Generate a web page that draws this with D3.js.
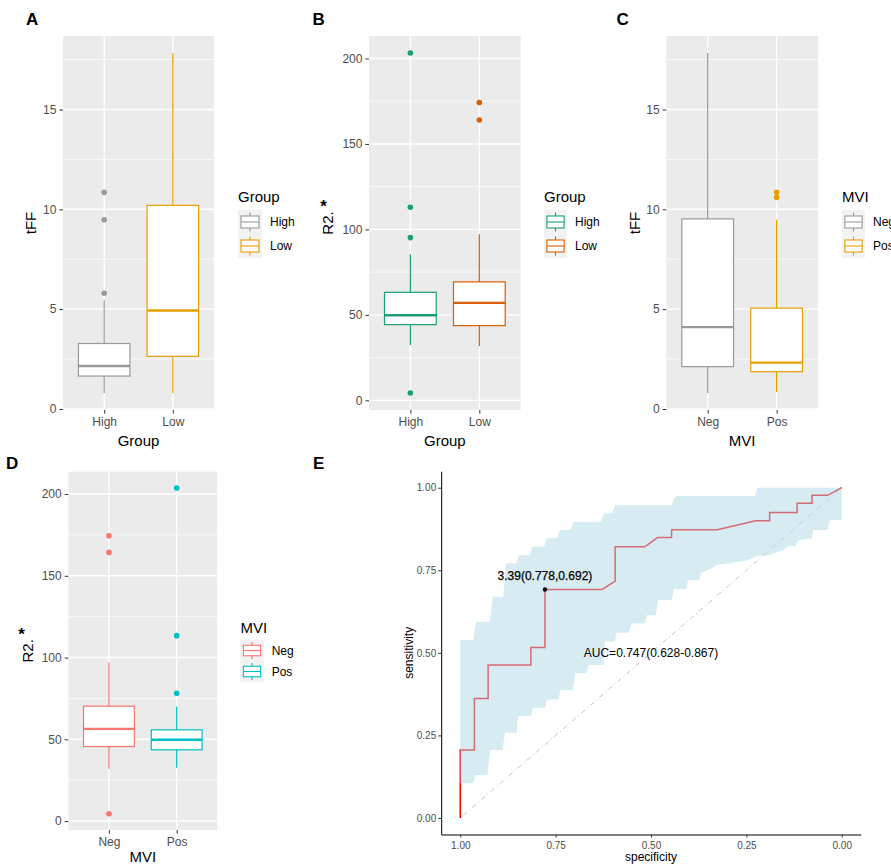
<!DOCTYPE html>
<html>
<head>
<meta charset="utf-8">
<script src="https://cdn.jsdelivr.net/npm/d3@7"></script>
<style>
  body { margin: 0; background: #fff; }
  svg { display: block; font-family: "Liberation Sans", Arial, sans-serif; }
</style>
</head>
<body>
<svg id="fig" width="891" height="868"></svg>
<script>
// values
const groupCats = ['High', 'Low'];
const mviCats = ['Neg', 'Pos'];

// box stats per category: [lower whisker, Q1, median, Q3, upper whisker]
const tffGroupStats = [[0.8, 1.65, 2.15, 3.28, 5.45], [0.8, 2.64, 4.93, 10.2, 17.83]];
const tffGroupOutliers = [[5.8, 9.48, 10.85], []];
const r2GroupStats = [[32.4, 44.3, 49.8, 63.2, 85.5], [31.8, 43.7, 57, 69.3, 97.2]];
const r2GroupOutliers = [[4.3, 95.2, 113, 203.2], [164, 174.2]];
const tffMviStats = [[0.8, 2.12, 4.1, 9.52, 17.83], [0.85, 1.87, 2.32, 5.05, 9.48]];
const tffMviOutliers = [[], [10.6, 10.85]];
const r2MviStats = [[32, 45.6, 56.4, 70.3, 97], [32.6, 43.6, 49.7, 55.8, 70]];
const r2MviOutliers = [[4.5, 164.3, 174.5], [78.2, 113.4, 203.7]];

const tffTicks = [0, 5, 10, 15];
const tffMinor = [2.5, 7.5, 12.5, 17.5];
const r2Ticks = [0, 50, 100, 150, 200];
const r2Minor = [25, 75, 125, 175];

// ROC: [specificity, sensitivity]
const rocCurve = [[1, 0], [1, 0.206], [0.963, 0.206], [0.963, 0.362], [0.927, 0.362], [0.927, 0.463],
  [0.815, 0.463], [0.815, 0.516], [0.778, 0.516], [0.778, 0.692], [0.628, 0.692], [0.594, 0.717],
  [0.594, 0.821], [0.516, 0.821], [0.483, 0.849], [0.446, 0.849], [0.446, 0.873], [0.326, 0.873],
  [0.226, 0.9], [0.189, 0.9], [0.189, 0.925], [0.117, 0.925], [0.117, 0.953], [0.078, 0.953],
  [0.078, 0.977], [0.037, 0.977], [0, 1]];
const ciUpper = [[1, 0.539], [0.966, 0.539], [0.959, 0.594], [0.922, 0.594], [0.915, 0.67], [0.887, 0.67],
  [0.88, 0.771], [0.854, 0.771], [0.846, 0.796], [0.817, 0.796], [0.812, 0.821], [0.78, 0.821],
  [0.773, 0.847], [0.746, 0.847], [0.739, 0.872], [0.71, 0.872], [0.704, 0.897], [0.631, 0.897],
  [0.623, 0.923], [0.602, 0.923], [0.594, 0.947], [0.446, 0.947], [0.441, 0.965], [0.432, 0.975],
  [0.227, 0.975], [0.221, 1], [0, 1]];
const ciLower = [[1, 0.105], [0.966, 0.105], [0.961, 0.13], [0.929, 0.13], [0.922, 0.206], [0.889, 0.206],
  [0.883, 0.258], [0.852, 0.258], [0.848, 0.309], [0.815, 0.309], [0.81, 0.334], [0.778, 0.334],
  [0.772, 0.359], [0.743, 0.359], [0.737, 0.387], [0.705, 0.387], [0.699, 0.438], [0.669, 0.438],
  [0.664, 0.463], [0.625, 0.463], [0.621, 0.534], [0.594, 0.534], [0.592, 0.561], [0.559, 0.561],
  [0.55, 0.589], [0.516, 0.59], [0.511, 0.614], [0.487, 0.614], [0.482, 0.66], [0.445, 0.66],
  [0.44, 0.693], [0.408, 0.693], [0.403, 0.72], [0.374, 0.72], [0.369, 0.742], [0.34, 0.757],
  [0.327, 0.766], [0.256, 0.778], [0.24, 0.784], [0.222, 0.793], [0.193, 0.796], [0.154, 0.811],
  [0.143, 0.823], [0.122, 0.823], [0.114, 0.841], [0.078, 0.847], [0.075, 0.872], [0.038, 0.872],
  [0.03, 0.902], [0, 0.902], [0, 1]];
const rocTicks = [1, 0.75, 0.5, 0.25, 0];
const bestPoint = [0.778, 0.692];
const bestLabel = '3.39(0.778,0.692)';
const aucLabel = 'AUC=0.747(0.628-0.867)';

const svg = d3.select('#fig');
svg.append('rect').attr('width', 891).attr('height', 868).attr('fill', '#fff');

function styleAxis(ax, size) {
  ax.select('.domain').remove();
  ax.selectAll('.tick line').attr('stroke', '#333').attr('stroke-width', 1);
  ax.selectAll('.tick text').attr('fill', '#4d4d4d').attr('font-size', size)
    .attr('font-family', '"Liberation Sans", Arial, sans-serif');
}

function boxPanel(cfg) {
  const { left, right, top, bottom, cats, stats, outliers, colors, ticks, minor } = cfg;
  const all = stats.flat().concat(outliers.flat());
  const [lo, hi] = d3.extent(all);
  const pad = (hi - lo) * 0.05;
  const y = d3.scaleLinear().domain([lo - pad, hi + pad]).range([bottom, top]);
  const x = d3.scalePoint().domain(cats).range([left, right]).padding(0.6);
  const g = svg.append('g');

  g.append('rect').attr('x', left).attr('y', top)
    .attr('width', right - left).attr('height', bottom - top).attr('fill', '#ebebeb');
  g.selectAll('.minor').data(minor).join('line')
    .attr('x1', left).attr('x2', right).attr('y1', d => y(d)).attr('y2', d => y(d))
    .attr('stroke', '#fff').attr('stroke-width', 0.7);
  g.selectAll('.major').data(ticks).join('line')
    .attr('x1', left).attr('x2', right).attr('y1', d => y(d)).attr('y2', d => y(d))
    .attr('stroke', '#fff').attr('stroke-width', 1.4);
  g.selectAll('.vmajor').data(cats).join('line')
    .attr('x1', d => x(d)).attr('x2', d => x(d)).attr('y1', top).attr('y2', bottom)
    .attr('stroke', '#fff').attr('stroke-width', 1.4);

  const bw = x.step() * 0.75;
  cats.forEach((c, i) => {
    const s = stats[i], cx = x(c), col = colors[i];
    const b = g.append('g');
    b.append('line').attr('x1', cx).attr('x2', cx).attr('y1', y(s[0])).attr('y2', y(s[1]))
      .attr('stroke', col).attr('stroke-width', 1.2);
    b.append('line').attr('x1', cx).attr('x2', cx).attr('y1', y(s[3])).attr('y2', y(s[4]))
      .attr('stroke', col).attr('stroke-width', 1.2);
    b.append('rect').attr('x', cx - bw / 2).attr('y', y(s[3]))
      .attr('width', bw).attr('height', y(s[1]) - y(s[3]))
      .attr('fill', '#fff').attr('stroke', col).attr('stroke-width', 1.2);
    b.append('line').attr('x1', cx - bw / 2).attr('x2', cx + bw / 2)
      .attr('y1', y(s[2])).attr('y2', y(s[2])).attr('stroke', col).attr('stroke-width', 2.4);
    b.selectAll('circle').data(outliers[i]).join('circle')
      .attr('cx', cx).attr('cy', d => y(d)).attr('r', 2.8).attr('fill', col);
  });

  const ay = g.append('g').attr('transform', `translate(${left},0)`)
    .call(d3.axisLeft(y).tickValues(ticks).tickSize(3.6).tickPadding(3));
  styleAxis(ay, 12);
  const ax = g.append('g').attr('transform', `translate(0,${bottom})`)
    .call(d3.axisBottom(x).tickSize(3.6).tickPadding(4));
  styleAxis(ax, 12);

  g.append('text').attr('x', (left + right) / 2).attr('y', cfg.xTitleY)
    .attr('text-anchor', 'middle').attr('font-size', 15).text(cfg.xTitle);
  g.append('text').attr('transform', `translate(${cfg.yTitleX},${(top + bottom) / 2}) rotate(-90)`)
    .attr('text-anchor', 'middle').attr('font-size', 15).text(cfg.yTitle);
  if (cfg.star) {
    g.append('text').attr('x', cfg.star[0]).attr('y', cfg.star[1])
      .attr('text-anchor', 'middle').attr('font-size', 17).attr('font-weight', 'bold').text('*');
  }
  g.append('text').attr('x', cfg.tag[0]).attr('y', cfg.tag[1])
    .attr('font-size', 17).attr('font-weight', 'bold').text(cfg.tagText);

  // legend
  const L = cfg.legend;
  const lg = g.append('g');
  lg.append('text').attr('x', L.x).attr('y', L.titleY).attr('font-size', 15).text(L.title);
  const keys = lg.selectAll('.key').data(cats).join('g')
    .attr('transform', (d, i) => `translate(${L.x},${L.keyY + i * L.kh})`);
  keys.append('rect').attr('width', L.kw).attr('height', L.kh).attr('fill', '#f2f2f2');
  keys.each(function (d, i) {
    const k = d3.select(this), col = colors[i], w = L.kw, h = L.kh;
    k.append('line').attr('x1', w / 2).attr('x2', w / 2).attr('y1', h * 0.1).attr('y2', h * 0.25)
      .attr('stroke', col).attr('stroke-width', 1.1);
    k.append('line').attr('x1', w / 2).attr('x2', w / 2).attr('y1', h * 0.75).attr('y2', h * 0.9)
      .attr('stroke', col).attr('stroke-width', 1.1);
    k.append('rect').attr('x', w * 0.125).attr('y', h * 0.25).attr('width', w * 0.75).attr('height', h * 0.5)
      .attr('fill', '#fff').attr('stroke', col).attr('stroke-width', 1.1);
    k.append('line').attr('x1', w * 0.125).attr('x2', w * 0.875).attr('y1', h / 2).attr('y2', h / 2)
      .attr('stroke', col).attr('stroke-width', 1.1);
  });
  keys.append('text').attr('x', L.labelX - L.x).attr('y', L.kh / 2).attr('dy', '0.35em')
    .attr('font-size', 12).text(d => d);
}

boxPanel({
  left: 63, right: 214, top: 36, bottom: 410, cats: groupCats,
  stats: tffGroupStats, outliers: tffGroupOutliers, colors: ['#999999', '#E69F00'],
  ticks: tffTicks, minor: tffMinor, xTitle: 'Group', xTitleY: 446, yTitle: 'tFF', yTitleX: 36,
  tag: [26, 25], tagText: 'A',
  legend: { title: 'Group', x: 238, titleY: 202, keyY: 210, kw: 24, kh: 24, labelX: 270 }
});
boxPanel({
  left: 369, right: 520.7, top: 36, bottom: 410, cats: groupCats,
  stats: r2GroupStats, outliers: r2GroupOutliers, colors: ['#1B9E77', '#D95F02'],
  ticks: r2Ticks, minor: r2Minor, xTitle: 'Group', xTitleY: 446, yTitle: 'R2.', yTitleX: 332.7,
  star: [323.5, 212], tag: [312.5, 25], tagText: 'B',
  legend: { title: 'Group', x: 544, titleY: 202, keyY: 210, kw: 23, kh: 24, labelX: 575 }
});
boxPanel({
  left: 666.3, right: 818, top: 36, bottom: 410, cats: mviCats,
  stats: tffMviStats, outliers: tffMviOutliers, colors: ['#999999', '#E69F00'],
  ticks: tffTicks, minor: tffMinor, xTitle: 'MVI', xTitleY: 446, yTitle: 'tFF', yTitleX: 640,
  tag: [616.5, 25], tagText: 'C',
  legend: { title: 'MVI', x: 842, titleY: 202, keyY: 210, kw: 23, kh: 24, labelX: 873 }
});
boxPanel({
  left: 68.3, right: 217.3, top: 471.7, bottom: 830, cats: mviCats,
  stats: r2MviStats, outliers: r2MviOutliers, colors: ['#F8766D', '#00BFC4'],
  ticks: r2Ticks, minor: r2Minor, xTitle: 'MVI', xTitleY: 862, yTitle: 'R2.', yTitleX: 32.7,
  star: [21.5, 640], tag: [6, 468.5], tagText: 'D',
  legend: { title: 'MVI', x: 240.5, titleY: 632.5, keyY: 640, kw: 23, kh: 21, labelX: 271.7 }
});

// ROC panel (E)
(function () {
  const x = d3.scaleLinear().domain([1.05, -0.05]).range([441.2, 860.8]);
  const y = d3.scaleLinear().domain([-0.05, 1.05]).range([834.5, 471.2]);
  const g = svg.append('g');

  g.append('line').attr('x1', x(1)).attr('y1', y(0)).attr('x2', x(0)).attr('y2', y(1))
    .attr('stroke', '#b5b5b5').attr('stroke-width', 0.8).attr('stroke-dasharray', '1,3,5,3');

  const line = d3.line().x(d => x(d[0])).y(d => y(d[1]));
  g.append('path').datum(rocCurve).attr('d', line)
    .attr('fill', 'none').attr('stroke', '#ff0000').attr('stroke-width', 1.5);

  const band = ciUpper.concat(ciLower.slice().reverse());
  g.append('path').datum(band).attr('d', d3.line().x(d => x(d[0])).y(d => y(d[1])).curve(d3.curveLinearClosed))
    .attr('fill', '#add8e6').attr('fill-opacity', 0.5).attr('stroke', 'none');

  g.append('circle').attr('cx', x(bestPoint[0])).attr('cy', y(bestPoint[1])).attr('r', 2.2).attr('fill', '#000');
  g.append('text').attr('x', x(bestPoint[0])).attr('y', y(bestPoint[1]) - 9)
    .attr('text-anchor', 'middle').attr('font-size', 12).attr('fill', '#000')
    .attr('stroke', '#000').attr('stroke-width', 0.25).text(bestLabel);
  g.append('text').attr('x', x(0.5)).attr('y', y(0.5)).attr('dy', '0.35em')
    .attr('text-anchor', 'middle').attr('font-size', 12).attr('fill', '#000').text(aucLabel);

  const ax = g.append('g').attr('transform', `translate(0,${y.range()[0]})`)
    .call(d3.axisBottom(x).tickValues(rocTicks).tickFormat(d3.format('.2f')).tickSize(3).tickSizeOuter(0).tickPadding(4.5));
  const ay = g.append('g').attr('transform', `translate(${x.range()[0]},0)`)
    .call(d3.axisLeft(y).tickValues(rocTicks).tickFormat(d3.format('.2f')).tickSize(3).tickSizeOuter(0).tickPadding(2));
  [ax, ay].forEach(a => {
    a.select('.domain').attr('stroke', '#000').attr('stroke-width', 1);
    a.selectAll('.tick line').attr('stroke', '#333');
    a.selectAll('.tick text').attr('fill', '#4d4d4d').attr('font-size', 10)
      .attr('font-family', '"Liberation Sans", Arial, sans-serif');
  });

  g.append('text').attr('x', (x.range()[0] + x.range()[1]) / 2).attr('y', 861)
    .attr('text-anchor', 'middle').attr('font-size', 12).text('specificity');
  g.append('text').attr('transform', `translate(413,${(y.range()[0] + y.range()[1]) / 2}) rotate(-90)`)
    .attr('text-anchor', 'middle').attr('font-size', 12).text('sensitivity');
  g.append('text').attr('x', 313).attr('y', 469).attr('font-size', 17).attr('font-weight', 'bold').text('E');
})();
</script>
</body>
</html>
